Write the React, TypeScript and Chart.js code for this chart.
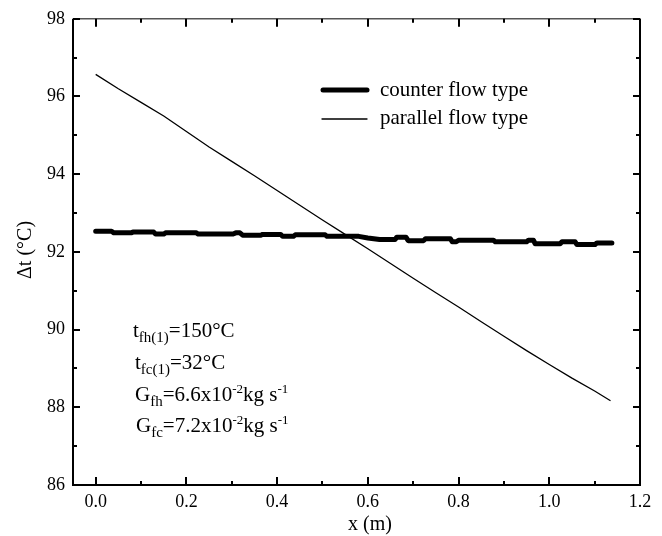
import React, { useEffect, useRef } from "react";
import { Chart, registerables } from "chart.js";

Chart.register(...registerables);

const counterX = [0.0, 0.035, 0.04, 0.078, 0.082, 0.128, 0.132, 0.15, 0.154, 0.222, 0.226, 0.303, 0.309, 0.318, 0.324, 0.364, 0.368, 0.408, 0.412, 0.436, 0.44, 0.506, 0.51, 0.58, 0.6, 0.626, 0.66, 0.664, 0.684, 0.689, 0.723, 0.727, 0.782, 0.786, 0.795, 0.8, 0.877, 0.881, 0.95, 0.954, 0.965, 0.969, 1.024, 1.028, 1.057, 1.061, 1.101, 1.105, 1.138];
const counterY = [92.53, 92.53, 92.49, 92.49, 92.51, 92.51, 92.46, 92.46, 92.49, 92.49, 92.46, 92.46, 92.49, 92.49, 92.43, 92.43, 92.45, 92.45, 92.4, 92.4, 92.44, 92.44, 92.4, 92.4, 92.36, 92.32, 92.32, 92.38, 92.38, 92.29, 92.29, 92.34, 92.34, 92.26, 92.26, 92.3, 92.3, 92.26, 92.26, 92.3, 92.3, 92.21, 92.21, 92.26, 92.26, 92.19, 92.19, 92.23, 92.23];

const parallelX = [0.0, 0.05, 0.1, 0.15, 0.2, 0.25, 0.3, 0.35, 0.4, 0.45, 0.5, 0.55, 0.6, 0.65, 0.7, 0.75, 0.8, 0.85, 0.9, 0.95, 1.0, 1.05, 1.1, 1.135];
const parallelY = [96.57, 96.2, 95.85, 95.5, 95.1, 94.7, 94.33, 93.96, 93.58, 93.2, 92.82, 92.45, 92.08, 91.7, 91.32, 90.95, 90.58, 90.2, 89.83, 89.46, 89.1, 88.75, 88.42, 88.17];

const xMajorTicks = [0, 0.2, 0.4, 0.6, 0.8, 1.0, 1.2];
const xMinorTicks = [0.1, 0.3, 0.5, 0.7, 0.9, 1.1];
const yMajorTicks = [86, 88, 90, 92, 94, 96, 98];
const yMinorTicks = [87, 89, 91, 93, 95, 97];

const legendLabels = ["counter flow type", "parallel flow type"];
const xTitle = "x (m)";
const yTitle = "\u0394t (\u00B0C)";

type Seg = { t: string; k: "n" | "sub" | "sup" };
const noteLines: Seg[][] = [
  [{ t: "t", k: "n" }, { t: "fh(1)", k: "sub" }, { t: "=150\u00B0C", k: "n" }],
  [{ t: "t", k: "n" }, { t: "fc(1)", k: "sub" }, { t: "=32\u00B0C", k: "n" }],
  [{ t: "G", k: "n" }, { t: "fh", k: "sub" }, { t: "=6.6x10", k: "n" }, { t: "-2", k: "sup" }, { t: "kg s", k: "n" }, { t: "-1", k: "sup" }],
  [{ t: "G", k: "n" }, { t: "fc", k: "sub" }, { t: "=7.2x10", k: "n" }, { t: "-2", k: "sup" }, { t: "kg s", k: "n" }, { t: "-1", k: "sup" }],
];

const SERIF = "'Liberation Serif', 'Times New Roman', serif";

export default function App() {
  const ref = useRef<HTMLCanvasElement>(null);
  useEffect(() => {
    const canvas = ref.current!;
    const framePlugin = {
      id: "frame",
      afterDraw(chart: any) {
        const ctx = chart.ctx as CanvasRenderingContext2D;
        const { left, right, top, bottom } = chart.chartArea;
        const xs = chart.scales.x;
        const ys = chart.scales.y;
        ctx.save();
        ctx.strokeStyle = "#000";
        ctx.lineWidth = 2;
        ctx.beginPath();
        ctx.moveTo(left, top);
        ctx.lineTo(left, bottom);
        ctx.lineTo(right, bottom);
        ctx.lineTo(right, top);
        ctx.stroke();
        ctx.strokeStyle = "#555";
        ctx.lineWidth = 1.5;
        ctx.beginPath();
        ctx.moveTo(left, top);
        ctx.lineTo(right, top);
        ctx.stroke();
        ctx.strokeStyle = "#000";
        ctx.lineWidth = 2;
        ctx.beginPath();
        const tick = (x1: number, y1: number, x2: number, y2: number) => {
          ctx.moveTo(x1, y1);
          ctx.lineTo(x2, y2);
        };
        for (const v of xMajorTicks) {
          const p = Math.round(xs.getPixelForValue(v));
          tick(p, bottom, p, bottom - 8);
          tick(p, top, p, top + 8);
        }
        for (const v of xMinorTicks) {
          const p = Math.round(xs.getPixelForValue(v));
          tick(p, bottom, p, bottom - 4);
          tick(p, top, p, top + 4);
        }
        for (const v of yMajorTicks) {
          const p = Math.round(ys.getPixelForValue(v));
          tick(left, p, left + 7, p);
          tick(right, p, right - 7, p);
        }
        for (const v of yMinorTicks) {
          const p = Math.round(ys.getPixelForValue(v));
          tick(left, p, left + 4, p);
          tick(right, p, right - 4, p);
        }
        ctx.stroke();

        // legend
        ctx.lineCap = "round";
        ctx.lineWidth = 5;
        ctx.beginPath();
        ctx.moveTo(323, 90);
        ctx.lineTo(367, 90);
        ctx.stroke();
        ctx.lineWidth = 1.3;
        ctx.beginPath();
        ctx.moveTo(322, 119);
        ctx.lineTo(367, 119);
        ctx.stroke();
        ctx.fillStyle = "#000";
        ctx.font = `21px ${SERIF}`;
        ctx.textAlign = "left";
        ctx.textBaseline = "alphabetic";
        ctx.fillText(legendLabels[0], 380, 96);
        ctx.fillText(legendLabels[1], 380, 124);

        // notes
        const baselines = [337, 369, 401, 432];
        const starts = [133, 135, 135, 136];
        noteLines.forEach((segs, i) => {
          let cx = starts[i];
          const y = baselines[i];
          for (const s of segs) {
            const size = s.k === "n" ? 21 : s.k === "sub" ? 15 : 13;
            const dy = s.k === "sub" ? 5 : s.k === "sup" ? -8 : 0;
            ctx.font = `${size}px ${SERIF}`;
            ctx.fillText(s.t, cx, y + dy);
            cx += ctx.measureText(s.t).width;
          }
        });

        // axis titles
        ctx.font = `20px ${SERIF}`;
        ctx.textAlign = "center";
        ctx.fillText(xTitle, 370, 530);
        ctx.translate(31, 250);
        ctx.rotate(-Math.PI / 2);
        ctx.fillText(yTitle, 0, 0);
        ctx.restore();
      },
    };

    const chart = new Chart(canvas, {
      type: "line",
      data: {
        datasets: [
          {
            label: legendLabels[0],
            data: counterX.map((x, i) => ({ x, y: counterY[i] })),
            borderColor: "#000",
            borderWidth: 5,
            pointRadius: 0,
            tension: 0,
            borderCapStyle: "round",
            borderJoinStyle: "round",
          },
          {
            label: legendLabels[1],
            data: parallelX.map((x, i) => ({ x, y: parallelY[i] })),
            borderColor: "#000",
            borderWidth: 1.3,
            pointRadius: 0,
            tension: 0,
          },
        ],
      },
      options: {
        responsive: false,
        animation: false,
        devicePixelRatio: 1,
        layout: { padding: { top: 14, right: 22, left: 0, bottom: 0 } },
        plugins: { legend: { display: false }, tooltip: { enabled: false } },
        scales: {
          x: {
            type: "linear",
            min: -0.05,
            max: 1.2,
            afterFit: (s: any) => {
              s.height = 51;
            },
            grid: { display: false, drawTicks: false },
            border: { display: false },
            ticks: {
              stepSize: 0.2,
              includeBounds: false,
              padding: 6,
              maxRotation: 0,
              autoSkip: false,
              color: "#000",
              font: { family: SERIF, size: 18 },
              callback: (v: any) => Number(v).toFixed(1),
            },
          },
          y: {
            type: "linear",
            min: 86,
            max: 98,
            afterFit: (s: any) => {
              s.width = 73;
            },
            grid: { display: false, drawTicks: false },
            border: { display: false },
            ticks: {
              stepSize: 2,
              padding: 8,
              color: "#000",
              font: { family: SERIF, size: 18 },
              callback: (v: any) => String(Math.round(Number(v))),
            },
          },
        },
      },
      plugins: [framePlugin],
    });
    return () => chart.destroy();
  }, []);
  return (
    <div style={{ position: "absolute", left: 0, top: 0, width: 662, height: 536 }}>
      <canvas ref={ref} width={662} height={536} style={{ display: "block" }} />
    </div>
  );
}
